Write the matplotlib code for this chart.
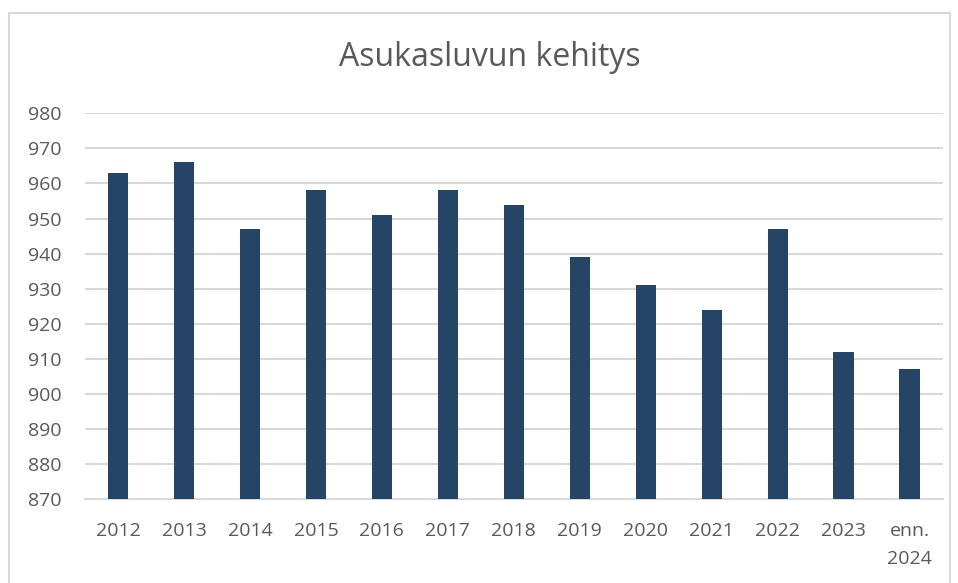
import matplotlib.pyplot as plt
from matplotlib.patches import Rectangle

years = ["2012", "2013", "2014", "2015", "2016", "2017", "2018",
         "2019", "2020", "2021", "2022", "2023", "enn.\n2024"]
population = [963, 966, 947, 958, 951, 958, 954, 939, 931, 924, 947, 912, 907]
yticks = [870, 880, 890, 900, 910, 920, 930, 940, 950, 960, 970, 980]

BAR = "#264466"
GRID = "#d9d9d9"
TXT = "#595959"

plt.rcParams["font.family"] = ["Open Sans", "DejaVu Sans"]

fig = plt.figure(figsize=(9.58, 5.83), dpi=100)
fig.patch.set_facecolor("white")
# chart frame
fig.add_artist(Rectangle((9 / 958, -0.02), 941 / 958, 1 - 13 / 583 + 0.02,
                         transform=fig.transFigure, fill=False,
                         edgecolor=GRID, lw=1.5))

ax = fig.add_axes([0.0887, 0.1436, 0.8953, 0.6621])
x = range(len(years))
ax.bar(x, population, width=0.31, color=BAR, zorder=3)

ax.set_ylim(870, 980)
ax.set_xlim(-0.5, len(years) - 0.5)
ax.set_yticks(yticks)
ax.set_xticks(list(x))
ax.set_xticklabels(years, linespacing=1.75)
ax.yaxis.grid(True, color=GRID, lw=1.5, zorder=0)
for s in ("top", "right", "left"):
    ax.spines[s].set_visible(False)
ax.spines["bottom"].set_color(GRID)
ax.spines["bottom"].set_linewidth(1.5)
ax.tick_params(axis="both", length=0, labelsize=14, labelcolor=TXT)
ax.tick_params(axis="y", pad=17)
ax.tick_params(axis="x", pad=16)
for lab in ax.get_xticklabels():
    lab.set_verticalalignment("top")

fig.text(0.511, 1 - 58 / 583, "Asukasluvun kehitys", ha="center", va="center",
         fontsize=23, color=TXT)

fig.savefig("out.png", dpi=100, facecolor="white")
